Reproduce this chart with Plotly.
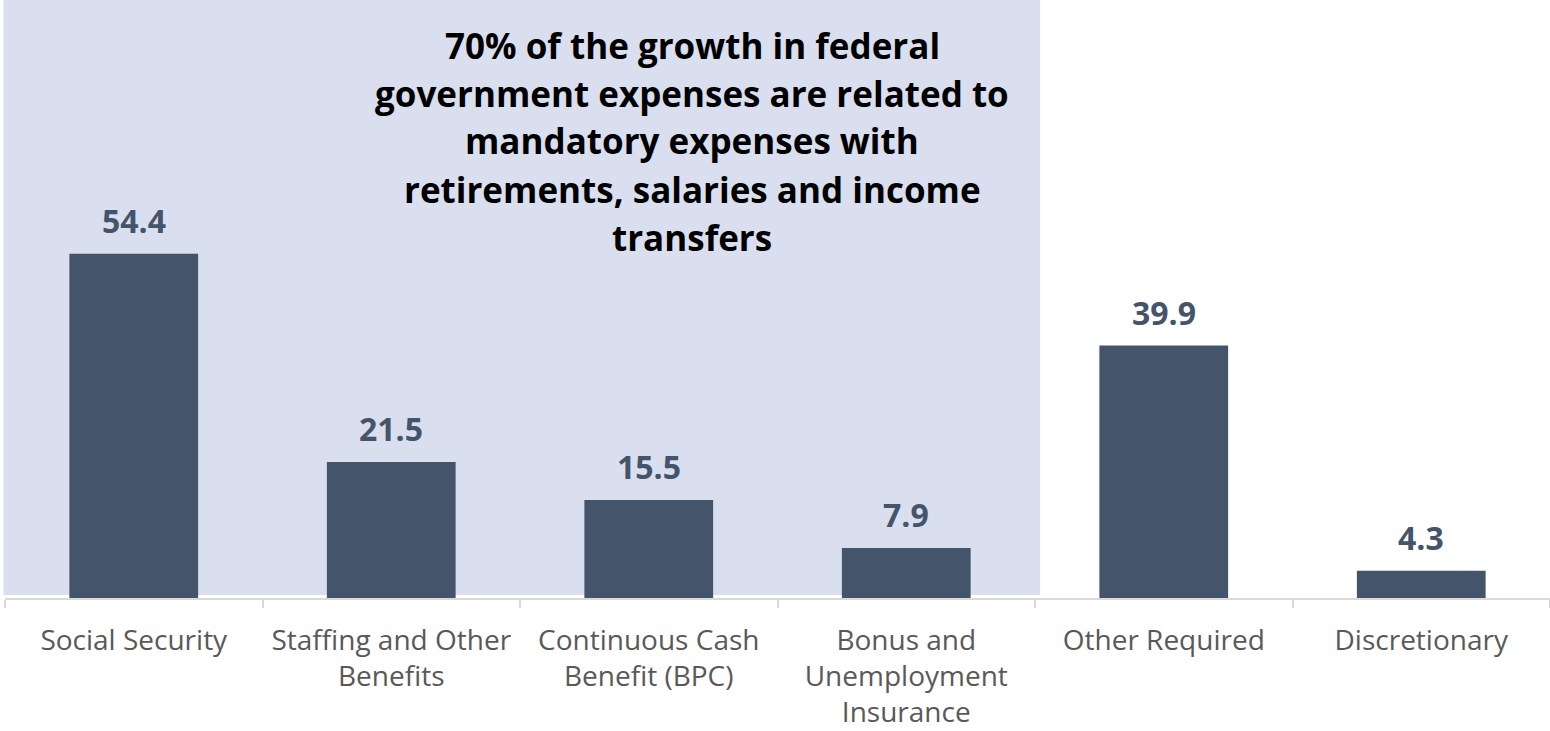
import plotly.graph_objects as go

# Expense categories and growth values
categories = [
    "Social Security",
    "Staffing and Other<br>Benefits",
    "Continuous Cash<br>Benefit (BPC)",
    "Bonus and<br>Unemployment<br>Insurance",
    "Other Required",
    "Discretionary",
]
values = [54.4, 21.5, 15.5, 7.9, 39.9, 4.3]

headline_lines = [
    "70% of the growth in federal",
    "government expenses are related to",
    "mandatory expenses with",
    "retirements, salaries and income",
    "transfers",
]

BAR_COLOR = "#44546A"
SHADE_COLOR = "#D9DFEE"
FONT = "Open Sans"

fig = go.Figure()

fig.add_trace(
    go.Bar(
        x=categories,
        y=values,
        marker=dict(color=BAR_COLOR, line=dict(width=0)),
        hoverinfo="skip",
    )
)

# Value labels above the bars
for cat, val in zip(categories, values):
    fig.add_annotation(
        x=cat, y=val, xref="x", yref="y",
        text=f"<b>{val:.1f}</b>",
        showarrow=False, yanchor="bottom", yshift=10,
        font=dict(family=FONT, size=32, color=BAR_COLOR),
    )

# Highlight block behind the mandatory-expense categories
fig.add_shape(
    type="rect", xref="paper", yref="paper",
    x0=-0.001, x1=0.67, y0=0.005, y1=1.0,
    fillcolor=SHADE_COLOR, line=dict(width=0), layer="below",
)

# Headline text, one line per annotation (pixel positions within the plot area)
plot_left, plot_width = 5, 1545
plot_top, plot_height = 0, 598
line_y0 = 45
for i, line in enumerate(headline_lines):
    px_x, px_y = 692, line_y0 + i * 48
    fig.add_annotation(
        x=(px_x - plot_left) / plot_width,
        y=1 - (px_y - plot_top) / plot_height,
        xref="paper", yref="paper",
        text=f"<b>{line}</b>", showarrow=False,
        xanchor="center", yanchor="middle",
        font=dict(family=FONT, size=35, color="#000000"),
    )

fig.update_layout(
    width=1550, height=731,
    margin=dict(l=5, r=0, t=0, b=133),
    paper_bgcolor="white", plot_bgcolor="rgba(0,0,0,0)",
    bargap=0.5, showlegend=False,
    font=dict(family=FONT),
)

fig.update_xaxes(
    showline=True, linecolor="#D9D9D9", linewidth=2,
    ticks="outside", tickson="boundaries", ticklen=8, tickcolor="#D9D9D9", tickwidth=1.5,
    tickfont=dict(family=FONT, size=28, color="#595959"),
    ticklabelstandoff=16,
    showgrid=False, zeroline=False,
)
fig.update_yaxes(
    range=[0, 94.5], visible=False, showgrid=False, zeroline=False,
)

fig.write_html("out.html")
